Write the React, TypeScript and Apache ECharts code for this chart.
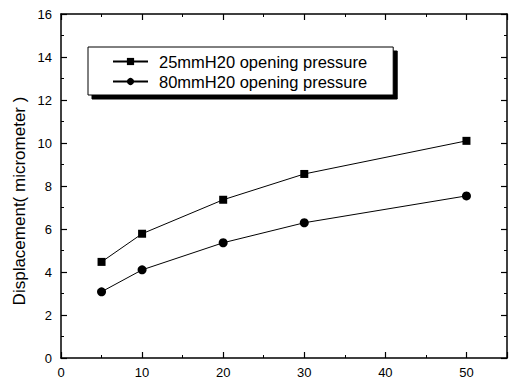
import React, { useEffect, useRef } from "react";
import * as echarts from "echarts";

const xValues = [5, 10, 20, 30, 50];
const series25 = [4.47, 5.78, 7.36, 8.56, 10.1];
const series80 = [3.08, 4.1, 5.36, 6.29, 7.54];
const seriesNames = ["25mmH20 opening pressure", "80mmH20 opening pressure"];
const yTitle = "Displacement( micrometer )";

const FONT = "Liberation Sans, Arial, sans-serif";

export default function App() {
  const ref = useRef<HTMLDivElement>(null);
  useEffect(() => {
    if (!ref.current) return;
    const chart = echarts.init(ref.current, undefined, { renderer: "svg" });
    const axisLine = { show: true, onZero: false, lineStyle: { color: "#000", width: 1.5 } };
    const tick = { show: true, inside: true, length: 6, lineStyle: { color: "#000", width: 1.2 } };
    const minor = { show: true, splitNumber: 2, length: 3, lineStyle: { color: "#000", width: 1 } };
    chart.setOption({
      animation: false,
      backgroundColor: "#fff",
      textStyle: { fontFamily: FONT },
      grid: { left: 61, right: 3, top: 14, bottom: 23 },
      legend: {
        orient: "vertical",
        left: 88,
        top: 47,
        padding: [6, 26, 5, 24],
        itemGap: 3,
        itemWidth: 35,
        itemHeight: 9,
        backgroundColor: "#fff",
        borderColor: "#000",
        borderWidth: 1,
        borderRadius: 0,
        shadowColor: "#000",
        shadowBlur: 0,
        shadowOffsetX: 4,
        shadowOffsetY: 4,
        textStyle: { fontFamily: FONT, fontSize: 16.5, color: "#000", padding: [0, 0, 0, 6] },
        data: seriesNames,
      },
      graphic: [
        {
          type: "text",
          x: 19,
          y: 201,
          rotation: Math.PI / 2,
          style: {
            text: yTitle,
            fill: "#000",
            font: `17px ${FONT}`,
            textAlign: "center",
            textVerticalAlign: "middle",
          },
        },
      ],
      xAxis: [
        {
          type: "value",
          min: 0,
          max: 55,
          interval: 10,
          axisLine,
          axisTick: tick,
          minorTick: minor,
          splitLine: { show: false },
          axisLabel: { color: "#000", fontSize: 13, fontFamily: FONT, margin: 8, showMaxLabel: false },
        },
        {
          type: "value",
          position: "top",
          min: 0,
          max: 55,
          interval: 10,
          axisLine,
          axisTick: tick,
          minorTick: minor,
          splitLine: { show: false },
          axisLabel: { show: false },
        },
      ],
      yAxis: [
        {
          type: "value",
          min: 0,
          max: 16,
          interval: 2,
          axisLine,
          axisTick: tick,
          minorTick: minor,
          splitLine: { show: false },
          axisLabel: { color: "#000", fontSize: 13, fontFamily: FONT, margin: 9 },
        },
        {
          type: "value",
          position: "right",
          min: 0,
          max: 16,
          interval: 2,
          axisLine,
          axisTick: tick,
          minorTick: minor,
          splitLine: { show: false },
          axisLabel: { show: false },
        },
      ],
      series: [
        {
          name: seriesNames[0],
          type: "line",
          data: xValues.map((x, i) => [x, series25[i]]),
          symbol: "rect",
          symbolSize: 8,
          itemStyle: { color: "#000" },
          lineStyle: { color: "#000", width: 1 },
        },
        {
          name: seriesNames[1],
          type: "line",
          data: xValues.map((x, i) => [x, series80[i]]),
          symbol: "circle",
          symbolSize: 9,
          itemStyle: { color: "#000" },
          lineStyle: { color: "#000", width: 1 },
        },
      ],
    });
    return () => chart.dispose();
  }, []);
  return <div ref={ref} style={{ width: 510, height: 381, position: "absolute", left: 0, top: 0 }} />;
}
